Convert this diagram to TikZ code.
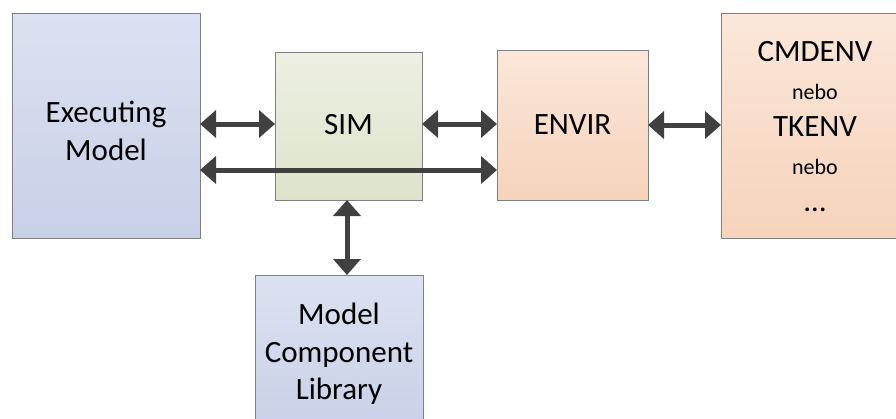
\documentclass[tikz,border=0pt]{standalone}
\usepackage{fontspec}
\setmainfont{Carlito}
\usetikzlibrary{arrows.meta}

\definecolor{edgegray}{HTML}{808080}
\definecolor{arrowgray}{HTML}{404040}
\definecolor{blueTop}{HTML}{DCE2F1}
\definecolor{blueBot}{HTML}{C8D0E8}
\definecolor{greenTop}{HTML}{EDF0E3}
\definecolor{greenBot}{HTML}{DDE3CB}
\definecolor{peachTop}{HTML}{FBE7DA}
\definecolor{peachBot}{HTML}{F6D3BB}

\tikzset{
  block/.style={draw=edgegray, line width=1pt, rectangle, inner sep=0pt, outer sep=0pt},
  blueblock/.style={block, top color=blueTop, bottom color=blueBot},
  greenblock/.style={block, top color=greenTop, bottom color=greenBot},
  peachblock/.style={block, top color=peachTop, bottom color=peachBot},
  lbl/.style={align=center, inner sep=0pt, font=\fontsize{31}{37.5}\selectfont},
  link/.style={draw=arrowgray, line width=5pt,
    {Triangle[width=27pt,length=16pt]}-{Triangle[width=27pt,length=16pt]}},
}

\begin{document}
\begin{tikzpicture}[x=1pt, y=1pt]
  \useasboundingbox (0,0) rectangle (896,-418);
  \clip (0,0) rectangle (896,-418);

  % blocks
  \node[blueblock, minimum width=188pt, minimum height=225pt] (exec) at (106,-125.5) {};
  \node[greenblock, minimum width=147pt, minimum height=148pt] (sim) at (348.5,-126) {};
  \node[peachblock, minimum width=151pt, minimum height=150pt] (envir) at (572.5,-125) {};
  \node[peachblock, minimum width=188pt, minimum height=225pt] (ui) at (815,-125.5) {};
  \node[blueblock, minimum width=168pt, minimum height=160pt] (lib) at (339,-355) {};

  % block labels
  \node[lbl] (execlbl) at (106,-131) {Executing\\Model};
  \node[lbl] (simlbl) at (348.5,-125) {SIM};
  \node[lbl] (envirlbl) at (572.5,-125) {ENVIR};
  \node[lbl] (uilbl) at (815,-127) {CMDENV\\{\fontsize{22}{37.5}\selectfont nebo}\\TKENV\\{\fontsize{22}{37.5}\selectfont nebo}\\\dots};
  \node[lbl] (liblbl) at (339,-354) {Model\\Component\\Library};

  % connectors
  \draw[link] ([yshift=1.5pt]exec.east) -- ([yshift=1.5pt]exec.east -| sim.west);
  \draw[link] ([yshift=1.5pt]exec.east -| sim.east) -- ([yshift=1.5pt]exec.east -| envir.west);
  \draw[link] ([yshift=-44.5pt]exec.east) -- ([yshift=-44.5pt]exec.east -| envir.west);
  \draw[link] (envir.east) -- (envir.east -| ui.west);
  \draw[link] ([xshift=-1.5pt]sim.south) -- ([xshift=-1.5pt]sim.south |- lib.north);
\end{tikzpicture}
\end{document}
